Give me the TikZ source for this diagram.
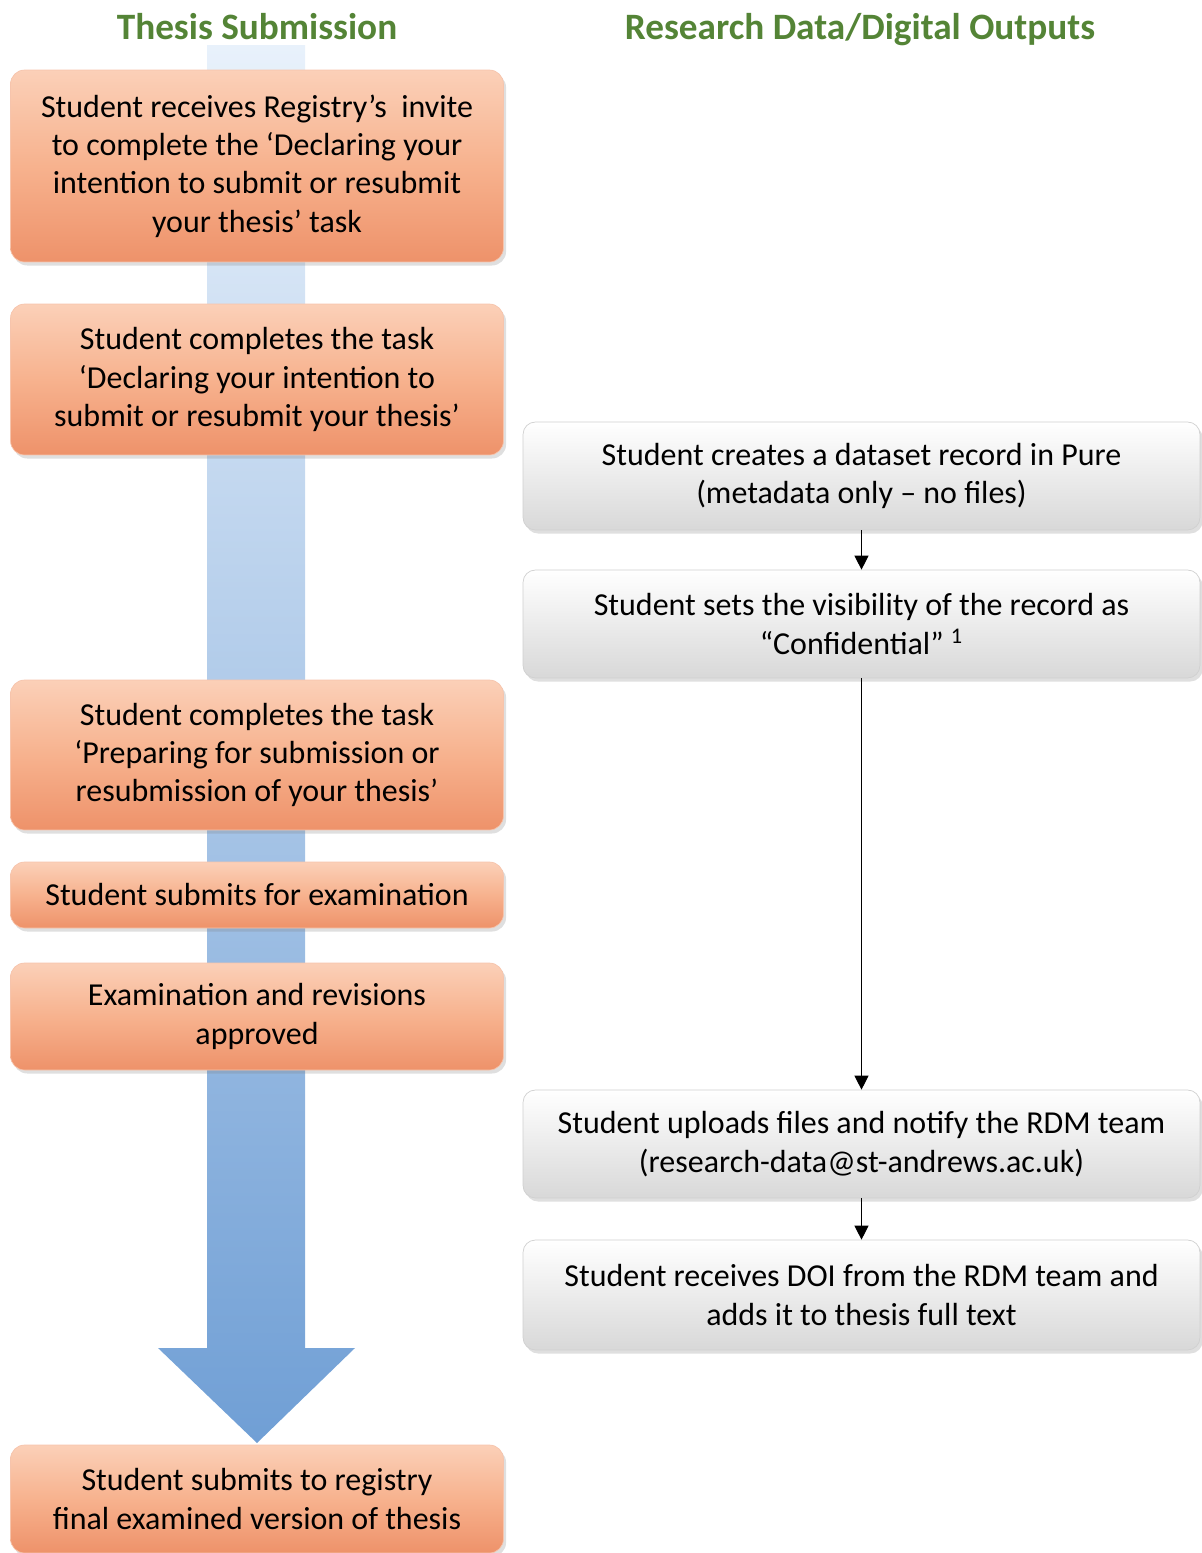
\documentclass[tikz,border=0pt]{standalone}
\usepackage{fontspec}
\setmainfont{Carlito}
\usepackage{xcolor}
\usepackage{tikz}
\usetikzlibrary{arrows.meta,shadows}
\definecolor{HeadGreen}{RGB}{84,132,54}
\definecolor{PeachTop}{RGB}{251,208,184}
\definecolor{PeachMid}{RGB}{247,178,142}
\definecolor{PeachBot}{RGB}{238,146,106}
\definecolor{PeachLine}{RGB}{246,196,172}
\definecolor{MistBot}{RGB}{216,216,216}
\definecolor{MistLine}{RGB}{208,208,208}
\definecolor{SkyTop}{RGB}{232,241,251}
\definecolor{SkyBot}{RGB}{112,159,213}

\begin{document}
\begin{tikzpicture}[x=0.02cm,y=-0.02cm,
    heading/.style={font=\fontsize{21.2}{25}\selectfont\bfseries,text=HeadGreen,anchor=base},
    taskbox/.style={rounded corners=8pt,draw=PeachLine,
      top color=PeachTop,bottom color=PeachBot,middle color=PeachMid,
      minimum width=9.86cm,align=center,inner sep=2pt,
      font=\fontsize{18.2}{21.8}\selectfont,
      drop shadow={shadow xshift=1.5pt,shadow yshift=-2pt,opacity=.25}},
    databox/.style={rounded corners=7pt,draw=MistLine,
      top color=white,bottom color=MistBot,
      minimum width=13.54cm,minimum height=2.16cm,align=center,inner sep=2pt,
      font=\fontsize{18.2}{21.8}\selectfont,
      drop shadow={shadow xshift=1.5pt,shadow yshift=-2pt,opacity=.25}},
    flow/.style={-{Triangle[length=8pt,width=8pt]},semithick}]
  \path[use as bounding box] (0,0) rectangle (1202,1553);

  % big arrow behind the thesis column
  \shade[top color=SkyTop,bottom color=SkyBot]
    (207,45) -- (305,45) -- (305,1348) -- (355,1348) -- (257,1443)
    -- (158,1348) -- (207,1348) -- cycle;

  \node[heading] (thesis) at (257,39) {Thesis Submission};
  \node[heading] (research) at (860,39) {Research Data/Digital Outputs};

  % thesis column
  \node[taskbox,minimum height=3.84cm] (invite) at (257,166)
    {Student receives Registry’s\ \ invite\\to complete the ‘Declaring your\\
     intention to submit or resubmit\\your thesis’ task};
  \node[taskbox,minimum height=3.02cm] (declare) at (257,379.5)
    {Student completes the task\\‘Declaring your intention to\\
     submit or resubmit your thesis’};
  \node[taskbox,minimum height=3.0cm] (prepare) at (257,755)
    {Student completes the task\\‘Preparing for submission or\\
     resubmission of your thesis’};
  \node[taskbox,minimum height=1.32cm] (examsub) at (257,895)
    {Student submits for examination};
  \node[taskbox,minimum height=2.14cm] (approved) at (257,1016.5)
    {Examination and revisions\\approved};
  \node[taskbox,minimum height=2.16cm] (final) at (257,1499)
    {Student submits to registry\\final examined version of thesis};

  % data column
  \node[databox] (dataset) at (861.5,476)
    {Student creates a dataset record in Pure\\(metadata only – no files)};
  \node[databox] (visibility) at (861.5,624)
    {Student sets the visibility of the record as\\“Confidential” \textsuperscript{1}};
  \node[databox] (upload) at (861.5,1144)
    {Student uploads files and notify the RDM team\\(research-data@st-andrews.ac.uk)};
  \node[databox,minimum height=2.2cm] (doi) at (861.5,1295)
    {Student receives DOI from the RDM team and\\adds it to thesis full text};

  \draw[flow] (dataset) -- (visibility);
  \draw[flow] (visibility) -- (upload);
  \draw[flow] (upload) -- (doi);
\end{tikzpicture}
\end{document}
